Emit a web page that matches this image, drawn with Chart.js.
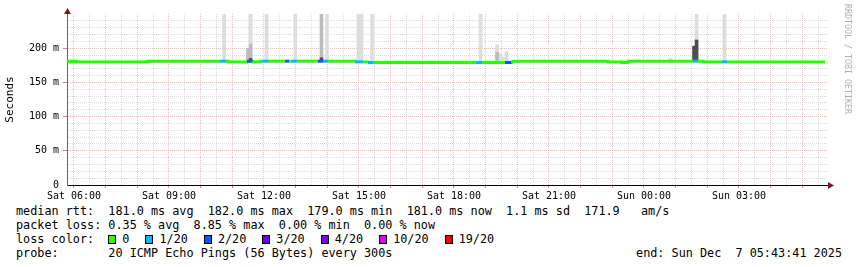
<!DOCTYPE html>
<html lang="en">
  <head>
    <meta charset="UTF-8" />
    <title>SmokePing | last 24 hours</title>
    <script src="https://cdn.jsdelivr.net/npm/chart.js"></script>
    <style>
      body {
        margin: 0;
        background: #fff;
        width: 857px;
        height: 267px;
        position: relative;
        overflow: hidden;
        font-family: "DejaVu Sans Mono", monospace;
      }
      #wrap { position: absolute; left: 0; top: 0; width: 857px; height: 200px; }
      .linha {
        position: absolute;
        left: 16px;
        font-size: 11.8px;
        line-height: 14px;
        white-space: pre;
        color: #000;
      }
      .caixa {
        display: inline-block;
        width: 8px;
        height: 9px;
        border: 1px solid #000;
        box-sizing: border-box;
        vertical-align: -1px;
        margin-right: 6px;
      }
      .item { margin-right: 16px; }
      #fim { position: absolute; right: 15px; font-size: 11.8px; line-height: 14px; white-space: pre; }
      #marca {
        position: absolute;
        left: 843px;
        top: 4px;
        writing-mode: vertical-rl;
        font-size: 8.3px;
        color: #b0b0b0;
        white-space: pre;
      }
    </style>
  </head>
  <body>
    <div id="wrap"><canvas id="grafico" width="857" height="200"></canvas></div>
    <div id="marca">RRDTOOL / TOBI OETIKER</div>

    <div class="linha" style="top: 204px">median rtt:  181.0 ms avg  182.0 ms max  179.0 ms min  181.0 ms now  1.1 ms sd  171.9   am/s</div>
    <div class="linha" style="top: 218px">packet loss: 0.35 % avg  8.85 % max  0.00 % min  0.00 % now</div>
    <div class="linha" id="legendaPerda" style="top: 232px">loss color:  </div>
    <div class="linha" style="top: 246px">probe:       20 ICMP Echo Pings (56 Bytes) every 300s</div>
    <div id="fim" style="top: 246px">end: Sun Dec  7 05:43:41 2025</div>

    <script>
      // horas contadas a partir de Sab 00:00 (24 = Dom 00:00)
      const inicio = 5.779
      const fim = 29.779

      // eixo x
      const horasRotulo = [6, 9, 12, 15, 18, 21, 24, 27]
      const rotulosX = ["Sat 06:00", "Sat 09:00", "Sat 12:00", "Sat 15:00", "Sat 18:00", "Sat 21:00", "Sun 00:00", "Sun 03:00"]

      // eixo y (ms)
      const rotulosY = [0, 50, 100, 150, 200]

      // mediana: inicio de cada degrau, valor (ms) e perda (pings de 20)
      const medT = [5.779, 5.874, 5.968, 6.063, 8.337, 10.611, 10.8, 10.863, 11.463, 11.621, 11.874, 11.937, 12.126,
        12.663, 12.789, 12.884, 13.042, 13.705, 13.863, 14.021, 14.874, 15.126, 15.284, 15.442, 18.695, 18.884,
        19.611, 19.8, 19.863, 22.863, 23.305, 23.495, 25.547, 25.705, 25.863, 26.463, 26.621, 29.716]
      const medV = [181, 180, 181, 180, 181, 181, 181, 180, 181, 180, 181, 181, 181,
        181, 181, 181, 181, 181, 181, 181, 180, 180, 179, 179, 179, 179,
        179, 180, 181, 180, 179, 181, 181, 181, 180, 180, 180, 180]
      const medPerda = [0, 0, 0, 0, 0, 1, 0, 0, 2, 0, 0, 1, 0,
        2, 0, 1, 0, 2, 1, 0, 1, 0, 1, 0, 1, 0,
        2, 0, 0, 0, 0, 0, 1, 0, 0, 1, 0, 0]

      // fumaca (pings individuais): centro do degrau, minimo, maximo e tom
      const fumT = [10.74, 11.495, 11.58, 11.58, 11.58, 12.08, 12.99, 13.816, 13.816, 13.99, 14.98, 15.08, 15.41,
        18.84, 19.36, 19.36, 19.45, 19.55, 19.66, 24.83, 25.58, 25.66, 25.66, 26.54]
      const fumMin = [181, 181, 206, 185, 181, 181, 181, 181, 181, 181, 180, 180, 179,
        179, 179, 179, 179, 179, 179, 181, 181, 181, 181, 180]
      const fumMax = [250, 200, 250, 206, 185, 250, 250, 250, 186, 250, 250, 250, 250,
        250, 205, 194, 192, 187, 195, 185, 203, 250, 212, 250]
      const fumTom = [0, 1, 0, 1, 2, 0, 0, 1, 2, 0, 0, 0, 0,
        0, 0, 1, 0, 0, 0, 0, 2, 0, 2, 0]

      // legenda de perda
      const perdaNiveis = [0, 1, 2, 3, 4, 10, 19]
      const perdaCores = ["#26ff00", "#00b8ff", "#0059ff", "#5e00ff", "#7e00ff", "#dd00ff", "#ff0000"]
      const perdaRotulos = ["0", "1/20", "2/20", "3/20", "4/20", "10/20", "19/20"]

      const tons = ["#dddddd", "#bcbcbc", "#4e4e4e"]
      const corGradeMaior = "rgba(235,140,140,0.6)"
      const corGradeMenor = "rgba(200,200,200,0.65)"

      function corPerda(p) {
        let cor = perdaCores[0]
        for (let i = 0; i < perdaNiveis.length; i++) {
          if (p >= perdaNiveis[i]) cor = perdaCores[i]
        }
        return cor
      }

      // monta a legenda das cores
      const leg = document.getElementById("legendaPerda")
      for (let i = 0; i < perdaCores.length; i++) {
        const item = document.createElement("span")
        item.className = "item"
        const caixa = document.createElement("span")
        caixa.className = "caixa"
        caixa.style.background = perdaCores[i]
        item.appendChild(caixa)
        item.appendChild(document.createTextNode(perdaRotulos[i]))
        leg.appendChild(item)
      }

      const pontosMediana = []
      for (let i = 0; i < medT.length; i++) {
        pontosMediana.push({ x: medT[i], y: medV[i] })
      }

      const dsFumaca = []
      for (let s = 0; s < tons.length; s++) {
        const pts = []
        for (let i = 0; i < fumT.length; i++) {
          if (fumTom[i] == s) pts.push({ x: fumT[i], y: [fumMin[i], fumMax[i]] })
        }
        dsFumaca.push({
          type: "bar",
          data: pts,
          backgroundColor: tons[s],
          borderWidth: 0,
          barThickness: 3,
          grouped: false,
          order: 3 - s,
        })
      }

      // grade de meia em meia hora
      const gradeX = []
      for (let h = 6; h < fim; h += 0.5) gradeX.push(h)
      const gradeY = []
      for (let v = 0; v <= 240; v += 10) gradeY.push(v)

      const setas = {
        id: "setas",
        afterDraw(chart) {
          const c = chart.ctx
          const a = chart.chartArea
          c.save()
          c.strokeStyle = "#000"
          c.lineWidth = 1
          c.beginPath()
          c.moveTo(a.right, a.bottom + 0.5)
          c.lineTo(a.right + 2, a.bottom + 0.5)
          c.stroke()
          c.fillStyle = "#7a1c1c"
          c.beginPath()
          c.moveTo(a.right + 1, a.bottom - 3)
          c.lineTo(a.right + 7, a.bottom + 0.5)
          c.lineTo(a.right + 1, a.bottom + 4)
          c.closePath()
          c.fill()
          c.beginPath()
          c.moveTo(a.left - 3, a.top)
          c.lineTo(a.left + 0.5, a.top - 6)
          c.lineTo(a.left + 4, a.top)
          c.closePath()
          c.fill()
          c.restore()
        },
      }

      new Chart(document.getElementById("grafico"), {
        type: "line",
        data: {
          datasets: [
            {
              label: "median rtt",
              data: pontosMediana,
              stepped: true,
              borderWidth: 3,
              borderCapStyle: "butt",
              pointRadius: 0,
              fill: false,
              order: 0,
              segment: {
                borderColor: function (ctx) {
                  return corPerda(medPerda[ctx.p0DataIndex])
                },
              },
            },
          ].concat(dsFumaca),
        },
        options: {
          responsive: false,
          animation: false,
          layout: { padding: { left: 0, right: 30, top: 14, bottom: 0 } },
          plugins: { legend: { display: false }, tooltip: { enabled: false } },
          scales: {
            x: {
              type: "linear",
              min: inicio,
              max: fim,
              offset: false,
              afterBuildTicks: function (s) {
                s.ticks = gradeX.map(function (v) { return { value: v } })
              },
              afterFit: function (s) { s.height = 15 },
              grid: {
                offset: false,
                drawTicks: true,
                tickLength: 3,
                color: function (ctx) {
                  return ctx.tick.value % 1 == 0 ? corGradeMaior : corGradeMenor
                },
                tickColor: function (ctx) {
                  return ctx.tick.value % 1 == 0 ? "#e08080" : "rgba(0,0,0,0)"
                },
              },
              border: { display: true, color: "#000", dash: [1, 1] },
              ticks: {
                autoSkip: false,
                maxRotation: 0,
                padding: 2,
                color: "#000",
                font: { family: "DejaVu Sans Mono", size: 10 },
                callback: function (v) {
                  const i = horasRotulo.indexOf(v)
                  return i >= 0 ? rotulosX[i] : ""
                },
              },
            },
            y: {
              min: 0,
              max: 250,
              afterBuildTicks: function (s) {
                s.ticks = gradeY.map(function (v) { return { value: v } })
              },
              afterFit: function (s) { s.width = 67 },
              grid: {
                drawTicks: true,
                tickLength: 4,
                color: function (ctx) {
                  if (ctx.tick.value == 0) return "rgba(0,0,0,0)"
                  return ctx.tick.value % 50 == 0 ? corGradeMaior : corGradeMenor
                },
                tickColor: function (ctx) {
                  return ctx.tick.value % 50 == 0 && ctx.tick.value > 0 ? "#e08080" : "rgba(0,0,0,0)"
                },
              },
              border: { display: true, color: "#666", dash: [1, 1] },
              title: {
                display: true,
                text: "Seconds",
                color: "#000",
                font: { family: "DejaVu Sans Mono", size: 11 },
                padding: { top: 4, bottom: 0 },
              },
              ticks: {
                autoSkip: false,
                padding: 4,
                color: "#000",
                font: { family: "DejaVu Sans Mono", size: 10 },
                callback: function (v) {
                  if (rotulosY.indexOf(v) < 0) return ""
                  return v == 0 ? "0" : v + " m"
                },
              },
            },
          },
        },
        plugins: [setas],
      })
    </script>
  </body>
</html>
